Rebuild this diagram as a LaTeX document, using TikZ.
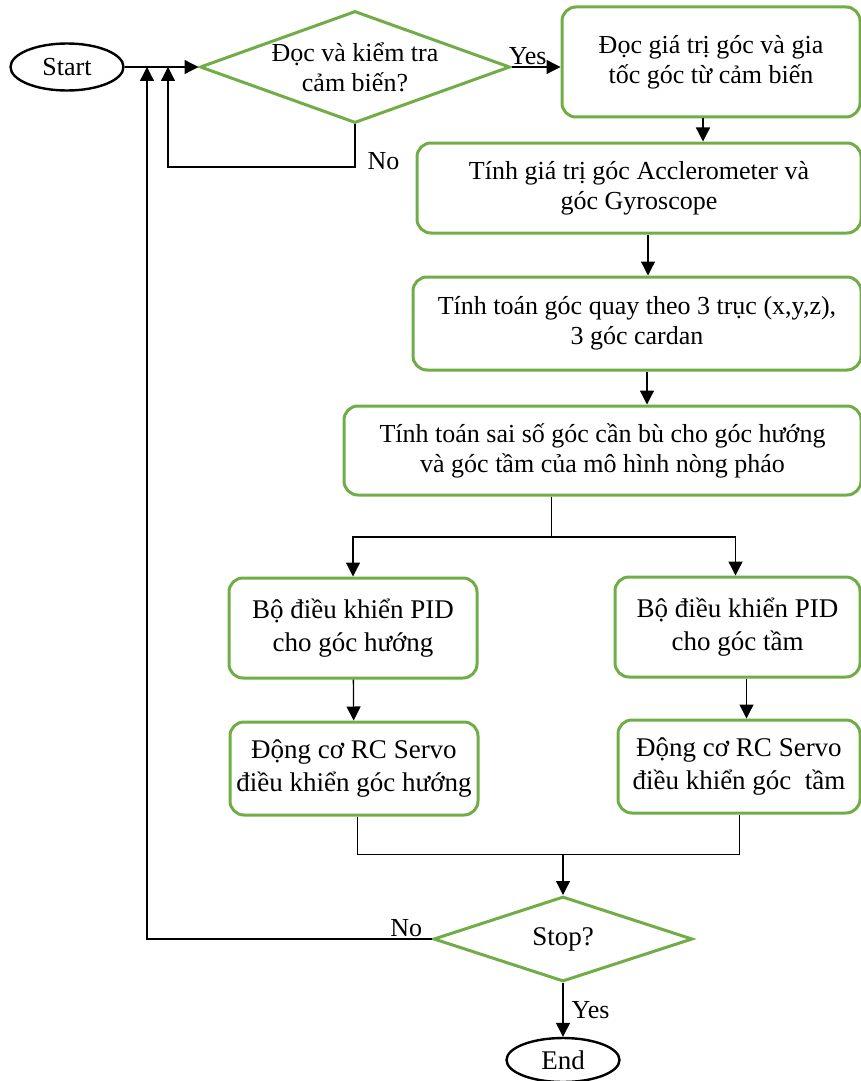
\documentclass[tikz,border=0pt]{standalone}
\usepackage{fontspec}
\setmainfont{Liberation Serif}
\usepackage{tikz}
\usetikzlibrary{shapes.geometric, positioning, arrows.meta, calc}
\definecolor{FlowGreen}{RGB}{112,173,71}

\begin{document}
\begin{tikzpicture}[x=0.5pt, y=-0.5pt,
            box/.style={rectangle, rounded corners=7pt, draw=FlowGreen,
                        line width=1.5pt, align=center, inner sep=2pt,
                        font=\fontsize{13}{15}\selectfont},
            lowbox/.style={box, font=\fontsize{13.5}{16.5}\selectfont},
            dec/.style={diamond, draw=FlowGreen, line width=1.5pt,
                        inner sep=-2pt, align=center},
            term/.style={ellipse, draw=black, line width=1.2pt, inner sep=0pt},
            arr/.style={-{Triangle[length=7pt, width=7pt]}, line width=0.65pt},
            lbl/.style={font=\fontsize{13}{15}\selectfont, inner sep=1pt}
          ]
          \useasboundingbox (0,0) rectangle (861,1081);

          % Read sensor
          \node[term, minimum width=56.5pt, minimum height=23.5pt,
                font=\fontsize{13}{15}\selectfont] (start) at (67,67) {Start};
          \node[dec, shape aspect=2.77, minimum width=155pt, minimum height=56pt,
                font=\fontsize{13}{15}\selectfont] (chk) at (355,67)
                {Đọc và kiểm tra\\cảm biến?};
          \node[box, minimum width=149pt, minimum height=55pt] (rd) at (711,62)
                {Đọc giá trị góc và gia\\tốc góc từ cảm biến};
          \node[box, minimum width=222pt, minimum height=45pt] (acc) at (639,188)
                {Tính giá trị góc Acclerometer và\\góc Gyroscope};
          \node[box, minimum width=224pt, minimum height=46.5pt] (rot) at (637,323.5)
                {Tính toán góc quay theo 3 trục (x,y,z),\\3 góc cardan};
          \node[box, minimum width=258.5pt, minimum height=44.5pt] (err) at (602.5,450.5)
                {Tính toán sai số góc cần bù cho góc hướng\\và góc tầm của mô hình nòng pháo};

          % Two control branches
          \node[lowbox, minimum width=124pt, minimum height=50pt] (pidh) at (353,628)
                {Bộ điều khiển PID\\cho góc hướng};
          \node[lowbox, minimum width=122.5pt, minimum height=50pt] (pidt) at (737.5,627)
                {Bộ điều khiển PID\\cho góc tầm};
          \node[lowbox, minimum width=124pt, minimum height=46.5pt] (srvh) at (354,768.5)
                {Động cơ RC Servo\\điều khiển góc hướng};
          \node[lowbox, minimum width=121pt, minimum height=46.5pt] (srvt) at (739,766.5)
                {Động cơ RC Servo\\điều khiển góc \ tầm};

          % Stop test
          \node[dec, shape aspect=3, minimum width=129.5pt, minimum height=42.5pt,
                font=\fontsize{13.5}{16}\selectfont] (stop) at (563,939) {Stop?};
          \node[term, minimum width=56.5pt, minimum height=22pt,
                font=\fontsize{13.5}{16}\selectfont] (end) at (563,1060) {End};

          \coordinate (split) at (551,537);
          \coordinate (mrg)   at (563,854);
          \coordinate (ret1)  at (147,67);
          \coordinate (ret2)  at (168,67);
          \coordinate (nochk) at (355,167);

          \draw[arr] (start.east) -- (chk.west);
          \draw[arr] (chk.east) -- node[lbl, above, pos=0.33]{Yes} (chk.east -| rd.west);
          \draw[arr] (chk.south) -- (nochk) node[lbl, right, xshift=5pt, yshift=3pt]{No} -| (ret2);
          \draw[arr] ([xshift=-4pt]rd.south) -- ([xshift=-4pt]rd.south |- acc.north);
          \draw[arr] ([xshift=4.5pt]acc.south) -- ([xshift=4.5pt]acc.south |- rot.north);
          \draw[arr] ([xshift=5pt]rot.south) -- ([xshift=5pt]rot.south |- err.north);
          \draw (err.south -| split) -- (split);
          \draw[arr] (split) -| (pidh.north);
          \draw[arr] (split) -| ([xshift=-1pt]pidt.north);
          \draw[arr] (pidh) -- (srvh);
          \draw[arr] ([xshift=4.5pt]pidt.south) -- ([xshift=4.5pt]pidt.south |- srvt.north);
          \draw ([xshift=1.5pt]srvh.south) |- (mrg -| srvt.south) -- (srvt.south);
          \draw[arr] (mrg) -- (stop.north);
          \draw[arr] (stop.west) -- node[lbl, above, pos=0.09]{No} (stop.west -| ret1) -- (ret1);
          \draw[arr] (stop.south) -- node[lbl, right, xshift=3pt]{Yes} (end.north);
        \end{tikzpicture}
\end{document}
